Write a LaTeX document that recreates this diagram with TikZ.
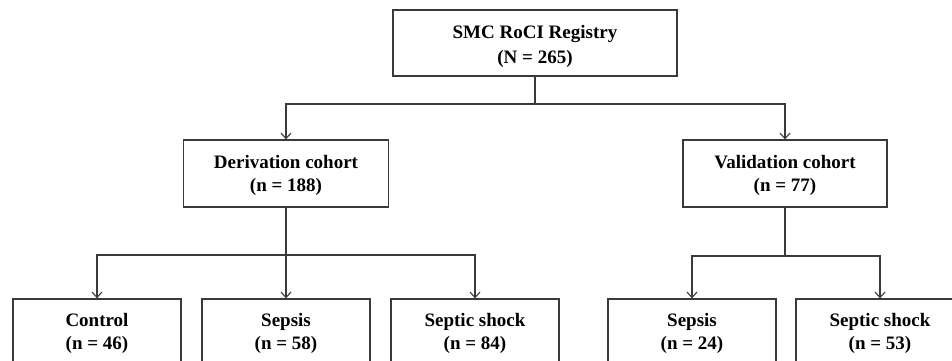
\documentclass[tikz,border=0pt]{standalone}
\usepackage{fontspec}
\setmainfont{Liberation Serif}
\usetikzlibrary{arrows.meta}
\definecolor{linec}{HTML}{3A3A3A}
\newcommand{\upstrut}[1]{\rule{0pt}{#1}}
\begin{document}
\begin{tikzpicture}[x=1pt,y=-1pt,
  box/.style={draw=linec, line width=1.3pt, fill=white, align=center,
    font=\fontsize{19}{23.5}\selectfont\bfseries, inner sep=0pt},
  conn/.style={draw=linec, line width=1.2pt},
  arr/.style={conn, -{Straight Barb[length=5.5pt,width=10pt,line width=1.1pt]}}]
\clip (0,0) rectangle (952,361);
\useasboundingbox (0,0) rectangle (952,361);
\node[box, minimum width=284pt, minimum height=66pt, font=\fontsize{19}{25}\selectfont\bfseries] (top) at (535,43) {\upstrut{20pt}SMC RoCI Registry\\(N = 265)};
\node[box, minimum width=205pt, minimum height=67pt] (der) at (286,173.5) {\upstrut{17.5pt}Derivation cohort\\(n = 188)};
\node[box, minimum width=204pt, minimum height=67pt] (val) at (785,173.5) {\upstrut{17.5pt}Validation cohort\\(n = 77)};
\node[box, minimum width=168pt, minimum height=67pt] (c1) at (97,332.5) {\upstrut{15pt}Control\\(n = 46)};
\node[box, minimum width=168pt, minimum height=67pt] (c2) at (286,332.5) {\upstrut{15pt}Sepsis\\(n = 58)};
\node[box, minimum width=168pt, minimum height=67pt] (c3) at (475,332.5) {\upstrut{15pt}Septic shock\\(n = 84)};
\node[box, minimum width=168pt, minimum height=67pt] (v1) at (692,332.5) {\upstrut{15pt}Sepsis\\(n = 24)};
\node[box, minimum width=168pt, minimum height=67pt] (v2) at (880,332.5) {\upstrut{15pt}Septic shock\\(n = 53)};
\coordinate (j1) at (535,104);
\coordinate (j2) at (286,255);
\coordinate (j3) at (785,256);
\draw[conn] (top.south) -- (j1);
\draw[arr] (j1) -| (der.north);
\draw[arr] (j1) -| (val.north);
\draw[conn] (der.south) -- (j2);
\draw[arr] (j2) -| (c1.north);
\draw[arr] (j2) -- (c2.north);
\draw[arr] (j2) -| (c3.north);
\draw[conn] (val.south) -- (j3);
\draw[arr] (j3) -| (v1.north);
\draw[arr] (j3) -| (v2.north);
\end{tikzpicture}
\end{document}
